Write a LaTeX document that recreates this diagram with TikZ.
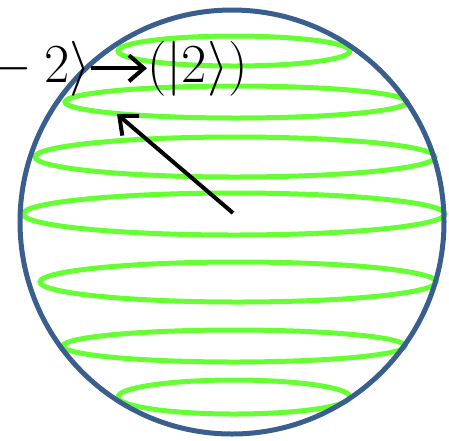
\RequirePackage{fix-cm}
\documentclass[tikz,border=0pt]{standalone}
\usetikzlibrary{arrows.meta}
\definecolor{sphereblue}{HTML}{3A5F8F}
\definecolor{ringgreen}{HTML}{66FF33}
\tikzset{
  sphere/.style={draw=sphereblue, line width=5pt},
  ring/.style={draw=ringgreen, line width=5pt},
  arrow/.style={-{Straight Barb[length=15pt,width=26pt]}, line width=4pt},
  ket/.style={inner sep=0pt, font=\fontsize{55}{62}\selectfont}
}

\begin{document}
\begin{tikzpicture}[x=1pt, y=-1pt]
\useasboundingbox (0,0) rectangle (449,440);
% rings
\foreach \cx/\cy/\rx/\ry in {234/51/116/15, 236/102/171/16, 235/157/200/20, 234/214/211/21, 238/282/198/20, 234/346/171/16, 234/397/116/17}
  \draw[ring] (\cx,\cy) ellipse [x radius=\rx pt, y radius=\ry pt];
% sphere
\draw[sphere] (232,222) circle [radius=212pt];
% state vector
\coordinate (origin) at (233,213);
\coordinate (tip) at (117,114);
\draw[arrow] (origin) -- (tip);
% labels
\node[ket, anchor=base east] (from) at (91,82) {${}-2\rangle$};
\node[ket, anchor=base west] (to) at (147,82) {$(|2\rangle)$};
\draw[arrow] (from) -- (to);
\end{tikzpicture}
\end{document}
